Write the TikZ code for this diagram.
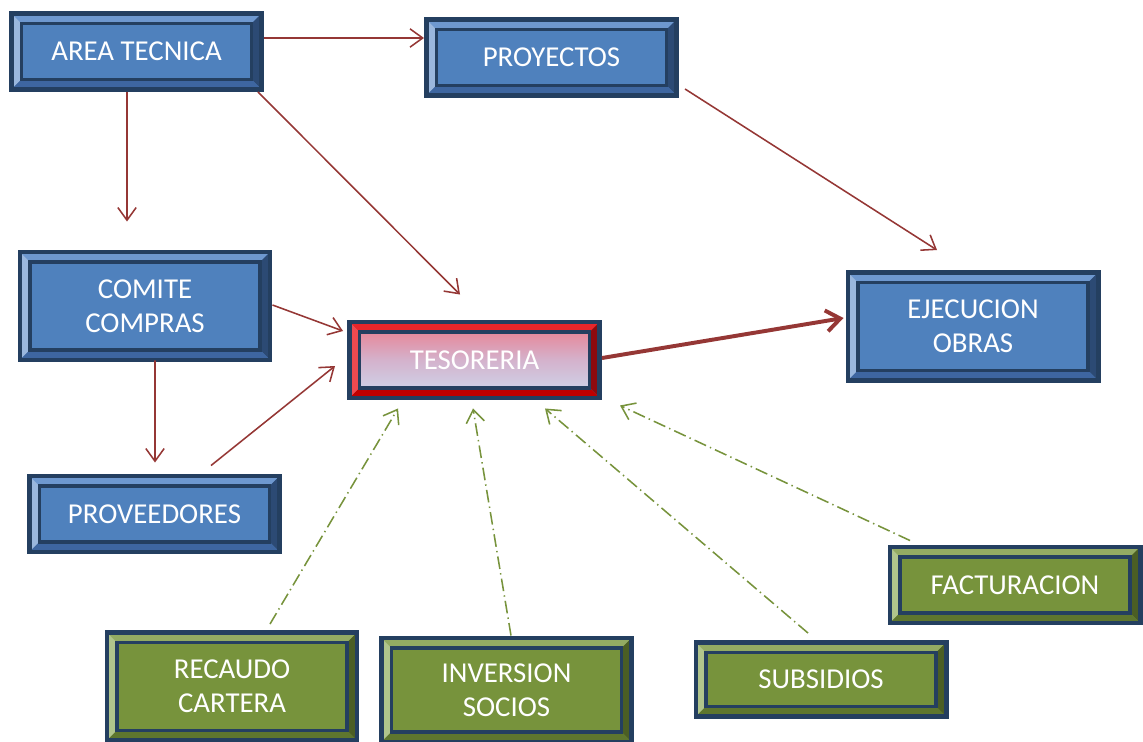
\documentclass[tikz,border=0pt]{standalone}
\usepackage{fontspec}
\setmainfont{Carlito}
\usetikzlibrary{arrows.meta}
\usetikzlibrary{calc}

\definecolor{navy}{HTML}{243F60}
\definecolor{blueface}{HTML}{4F81BD}
\definecolor{bluetop}{HTML}{6E98CF}
\definecolor{blueleft}{HTML}{9AB7DD}
\definecolor{blueright}{HTML}{2C4A74}
\definecolor{bluebottom}{HTML}{3E66A0}
\definecolor{greenface}{HTML}{77933C}
\definecolor{greentop}{HTML}{93AB63}
\definecolor{greenleft}{HTML}{B0C58C}
\definecolor{greenright}{HTML}{4B5E24}
\definecolor{greenbottom}{HTML}{5E762E}
\definecolor{redtop}{HTML}{E8262B}
\definecolor{redleft}{HTML}{EE4A50}
\definecolor{redright}{HTML}{8E0A0E}
\definecolor{redbottom}{HTML}{C00000}
\definecolor{pinkface}{HTML}{EC7A8A}
\definecolor{lilacface}{HTML}{D4B2CC}
\definecolor{paleface}{HTML}{CDDAEF}
\definecolor{arrowred}{HTML}{953735}
\definecolor{arrowgreen}{HTML}{77933C}
\newcommand{\bevelw}{0.25cm}

\begin{document}
\begin{tikzpicture}
[x=0.025cm, y=-0.025cm,
  bevel/.style n args={5}{fill=#1, path picture={
      \path (path picture bounding box.south west) coordinate (bsw)
            (path picture bounding box.north east) coordinate (bne);
      \fill[#2] (bsw |- bne) -- (bne) -- ($(bne)+(-\bevelw,-\bevelw)$) -- ($(bsw |- bne)+(\bevelw,-\bevelw)$) -- cycle;
      \fill[#3] (bsw) -- (bsw |- bne) -- ($(bsw |- bne)+(\bevelw,-\bevelw)$) -- ($(bsw)+(\bevelw,\bevelw)$) -- cycle;
      \fill[#4] (bne) -- (bne |- bsw) -- ($(bne |- bsw)+(-\bevelw,\bevelw)$) -- ($(bne)+(-\bevelw,-\bevelw)$) -- cycle;
      \fill[#5] (bsw) -- (bne |- bsw) -- ($(bne |- bsw)+(-\bevelw,\bevelw)$) -- ($(bsw)+(\bevelw,\bevelw)$) -- cycle;
      \draw[navy, line width=2.2pt] ($(bsw)+(\bevelw,\bevelw)$) rectangle ($(bne)+(-\bevelw,-\bevelw)$);}},
  boxdecorate/.style={shape=rectangle, draw=navy, line width=3.5pt, inner sep=0pt,
    minimum width=6.25cm, text=white, align=center,
    font=\fontsize{20.5}{24}\selectfont},
  bluedecorate/.style={boxdecorate, bevel={blueface}{bluetop}{blueleft}{blueright}{bluebottom}},
  greendecorate/.style={boxdecorate, bevel={greenface}{greentop}{greenleft}{greenright}{greenbottom}},
  reddecorate/.style={boxdecorate, top color=pinkface, bottom color=paleface,
    middle color=lilacface,
    bevel={none}{redtop}{redleft}{redright}{redbottom}},
  linedecorate/.style={draw=arrowred, line width=1.1pt, -{Straight Barb[length=9pt,width=13pt]}},
  thickdecorate/.style={draw=arrowred, line width=2.8pt, -{Straight Barb[length=10pt,width=15pt]}},
  dotdecorate/.style={draw=arrowgreen, line width=1.1pt,
    dash pattern=on 9pt off 3pt on 1pt off 3pt, -{Straight Barb[length=9pt,width=13pt]}}]
\useasboundingbox (0,0) rectangle (1143,742);
%% nodes
\foreach \nodename/\x/\y/\h/\txt in {area/136.5/51.5/1.9/AREA TECNICA,
  proy/551.5/57.5/1.9/PROYECTOS, comite/145/306/2.7/{COMITE\\COMPRAS},
  prov/154.5/514/1.9/PROVEEDORES, ejec/973/326.5/2.7/{EJECUCION\\OBRAS}}
{
  \node (\nodename) at (\x,\y) [bluedecorate, minimum height=\h cm] {\txt};
}
\foreach \nodename/\x/\y/\h/\txt in {rec/232/686.5/2.7/{RECAUDO\\CARTERA},
  inv/506.5/690/2.6/{INVERSION\\SOCIOS}, sub/821/679.5/1.85/SUBSIDIOS,
  fac/1015/585/1.9/FACTURACION}
{
  \node (\nodename) at (\x,\y) [greendecorate, minimum height=\h cm] {\txt};
}
\node (tes) at (474.5,360) [reddecorate, minimum height=1.9cm] {TESORERIA};
%% edges
\draw[linedecorate] ($(area.east)+(0,-13.5)$) -- ($(proy.west)+(0,-19.5)$);
\draw[linedecorate] ($(area.south)+(-9.5,0)$) -- ($(comite.north)+(-18,-28)$);
\draw[linedecorate] ($(area.south east)+(-6,0)$) -- ($(tes.north)+(-14.5,-25)$);
\draw[linedecorate] ($(proy.south east)+(6,-9)$) -- ($(ejec.north)+(-36,-20)$);
\draw[linedecorate] ($(comite.east)+(0,-1)$) -- ($(tes.west)+(-4,-29)$);
\draw[linedecorate] ($(comite.south)+(10,-2)$) -- ($(prov.north)+(0.5,-11)$);
\draw[linedecorate] ($(prov.north)+(56.5,-8)$) -- ($(tes.west)+(-12,6)$);
\draw[thickdecorate] ($(tes.east)+(0,-2)$) -- ($(ejec.west)+(-2,-8.5)$);
\draw[dotdecorate] ($(rec.north)+(38,-6)$) -- ($(tes.south)+(-76.5,8)$);
\draw[dotdecorate] ($(inv.north)+(4.5,0)$) -- ($(tes.south)+(-1.5,8)$);
\draw[dotdecorate] ($(sub.north)+(-13,-7)$) -- ($(tes.south)+(70.5,8)$);
\draw[dotdecorate] ($(fac.north)+(-105,-4)$) -- ($(tes.south east)+(18,5)$);
\end{tikzpicture}
\end{document}
